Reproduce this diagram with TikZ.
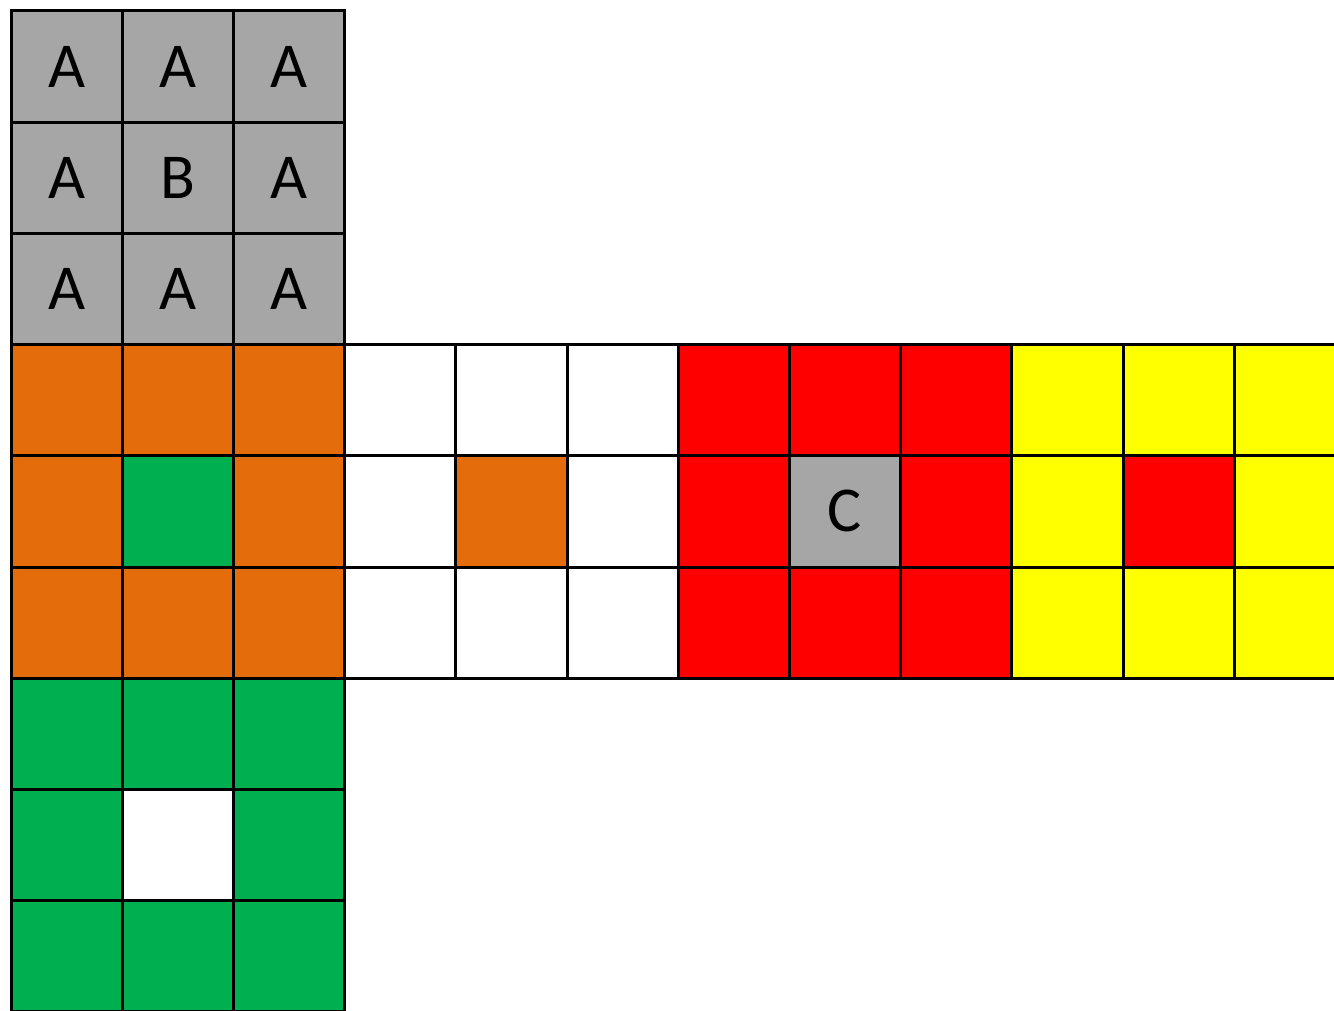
\documentclass[tikz,border=0pt]{standalone}
\usepackage{fontspec}
\setmainfont{Carlito}
\definecolor{cgray}{HTML}{A6A6A6}
\definecolor{corange}{HTML}{E46C0A}
\definecolor{cgreen}{HTML}{00B050}
\definecolor{cred}{HTML}{FF0000}
\definecolor{cyellow}{HTML}{FFFF00}
\tikzset{
  cell/.style={draw=black, line width=3pt, minimum size=111.2pt, inner sep=0pt, anchor=center,
    font=\fontsize{64}{64}\selectfont},
}
\begin{document}
\begin{tikzpicture}[x=1pt,y=-1pt]
\useasboundingbox (0,0) rectangle (1334,1011);
\fill[white] (0,0) rectangle (1334,1011);
\clip (0,0) rectangle (1334,1011);
\def\s{111.2}
\def\ox{11}
\def\oy{11}
% cell macro: #1 name, #2 col, #3 row, #4 colour, #5 text
\newcommand\cellat[5]{%
  \node[cell, fill=#4] (#1) at ({\ox+(#2+0.5)*\s},{\oy+(#3+0.5)*\s}) {#5};}
% gray top block
\foreach \c in {0,1,2}{\foreach \r in {0,1,2}{
  \ifnum\c=1 \ifnum\r=1 \cellat{g\c\r}{\c}{\r}{cgray}{B}\else\cellat{g\c\r}{\c}{\r}{cgray}{A}\fi
  \else\cellat{g\c\r}{\c}{\r}{cgray}{A}\fi}}
% orange block with green centre
\foreach \c in {0,1,2}{\foreach \r in {3,4,5}{
  \cellat{o\c\r}{\c}{\r}{corange}{}}}
\cellat{oc}{1}{4}{cgreen}{}
% green block with white centre
\foreach \c in {0,1,2}{\foreach \r in {6,7,8}{
  \cellat{e\c\r}{\c}{\r}{cgreen}{}}}
\cellat{ec}{1}{7}{white}{}
% white block with orange centre
\foreach \c in {3,4,5}{\foreach \r in {3,4,5}{
  \cellat{w\c\r}{\c}{\r}{white}{}}}
\cellat{wc}{4}{4}{corange}{}
% red block with gray C centre
\foreach \c in {6,7,8}{\foreach \r in {3,4,5}{
  \cellat{r\c\r}{\c}{\r}{cred}{}}}
\cellat{rc}{7}{4}{cgray}{C}
% yellow block with red centre
\foreach \c in {9,10,11}{\foreach \r in {3,4,5}{
  \cellat{y\c\r}{\c}{\r}{cyellow}{}}}
\cellat{yc}{10}{4}{cred}{}
\end{tikzpicture}
\end{document}
